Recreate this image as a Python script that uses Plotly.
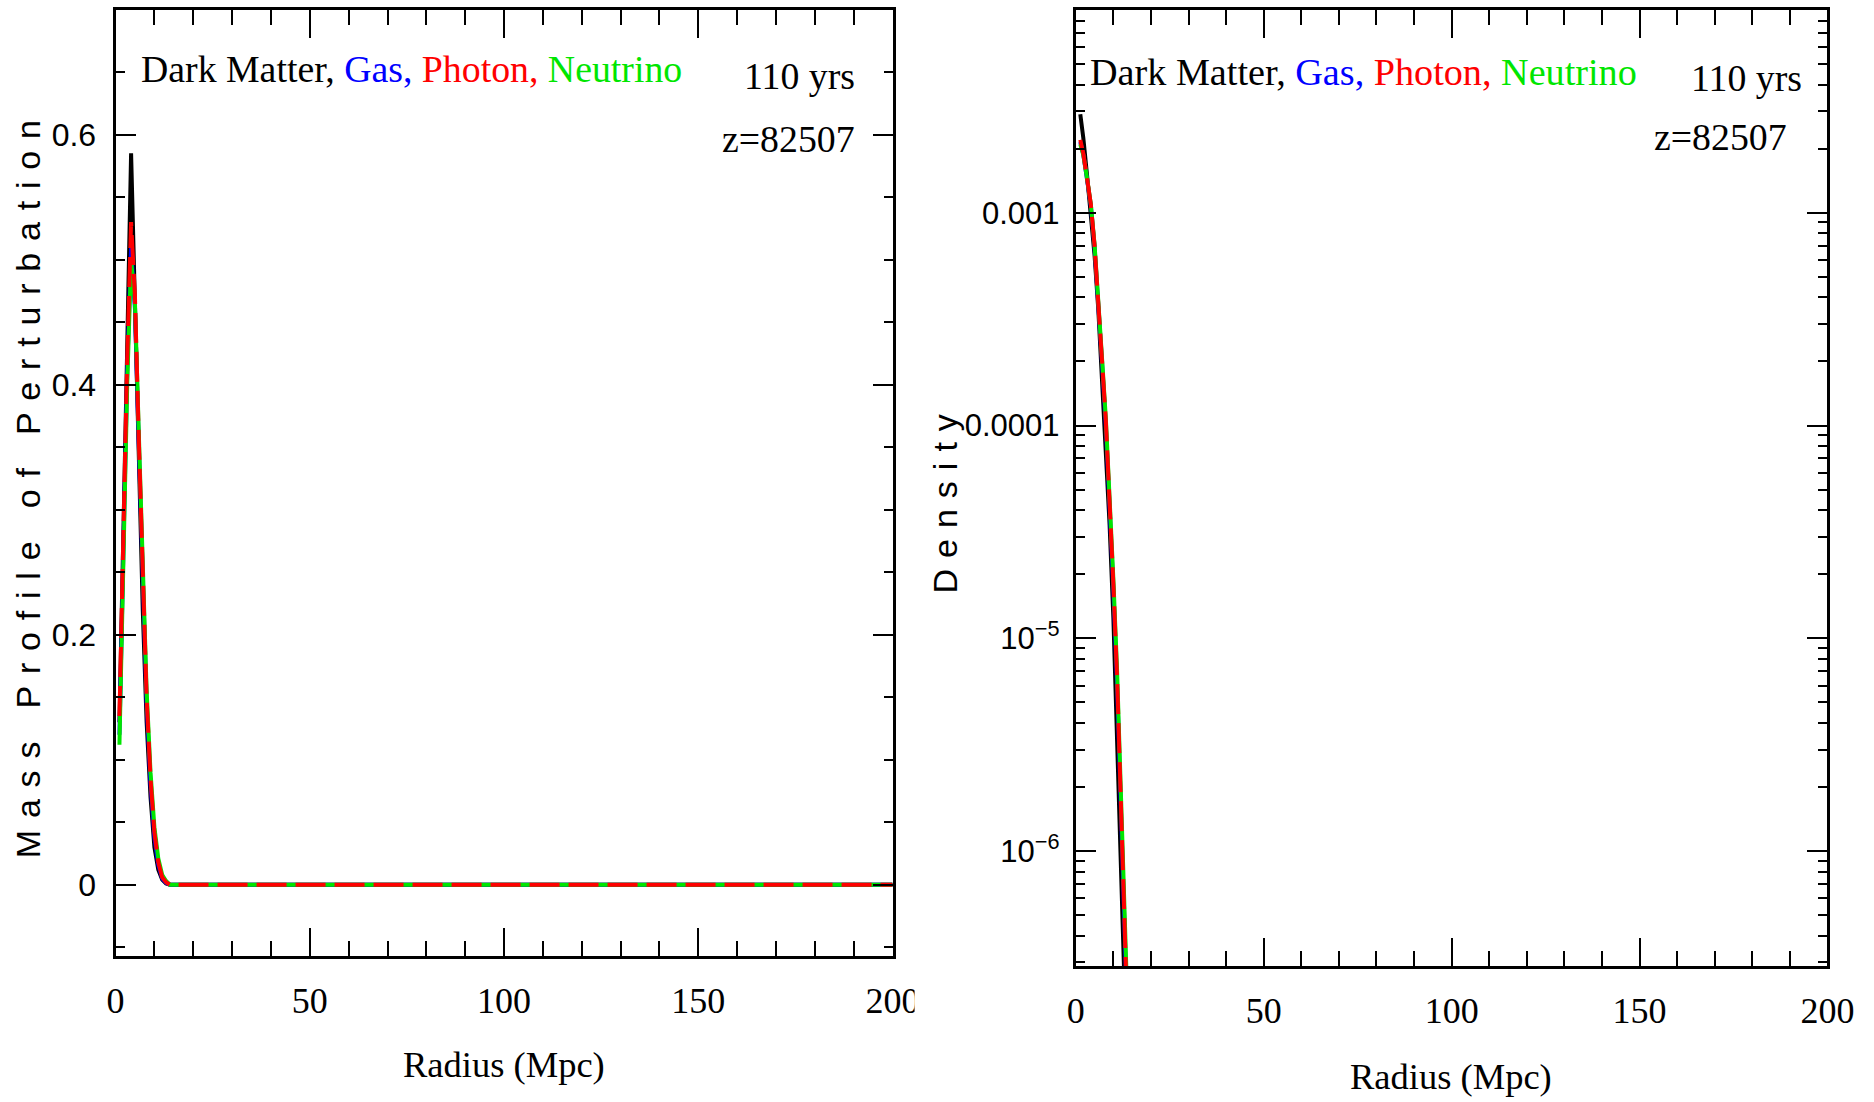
import plotly.graph_objects as go

# ---------------- data ----------------
r_mass = [1.0, 2.0, 3.0, 4.0, 5.0, 6.0, 7.0, 8.0, 9.0, 10.0, 11.0, 12.0, 13.0, 14.0, 200.0]
dm_mass = [0.13, 0.30, 0.43, 0.585, 0.46, 0.34, 0.22, 0.13, 0.07, 0.03, 0.012, 0.004, 0.001, 0.0, 0.0]
gas_mass = [0.12, 0.28, 0.41, 0.51, 0.46, 0.35, 0.235, 0.145, 0.08, 0.038, 0.016, 0.005, 0.0015, 0.0, 0.0]
photon_mass = [0.135, 0.29, 0.42, 0.53, 0.47, 0.355, 0.24, 0.15, 0.085, 0.042, 0.018, 0.006, 0.002, 0.0, 0.0]
neutrino_mass = [0.112, 0.27, 0.40, 0.50, 0.465, 0.36, 0.245, 0.155, 0.09, 0.046, 0.021, 0.008, 0.003, 0.0, 0.0]

r_dens = [1.2, 2.0, 3.0, 4.0, 5.0, 6.0, 7.0, 8.0, 9.0, 10.0, 11.0, 12.0, 13.0, 14.0, 15.0, 16.0]
dm_dens = [2.9e-3, 2.25e-3, 1.5e-3, 1.0e-3, 6.3e-4, 3.5e-4, 1.7e-4, 8.2e-5, 3.4e-5, 1.25e-5,
           4.2e-6, 1.3e-6, 3.6e-7, 9e-8, 2e-8, 4e-9]
gas_dens = [2.15e-3, 1.88e-3, 1.43e-3, 1.08e-3, 6.9e-4, 3.9e-4, 1.95e-4, 1.0e-4, 4.3e-5, 1.7e-5,
            6.0e-6, 2.0e-6, 5.9e-7, 1.9e-7, 4e-8, 8e-9]
photon_dens = [2.2e-3, 1.9e-3, 1.45e-3, 1.1e-3, 7.0e-4, 4.0e-4, 2.0e-4, 1.05e-4, 4.5e-5, 1.8e-5,
               6.5e-6, 2.2e-6, 6.5e-7, 2.2e-7, 4e-8, 8e-9]
neutrino_dens = [2.1e-3, 1.87e-3, 1.45e-3, 1.1e-3, 7.1e-4, 4.1e-4, 2.05e-4, 1.08e-4, 4.7e-5, 1.9e-5,
                 7.0e-6, 2.4e-6, 7.2e-7, 2.3e-7, 5e-8, 1e-8]

x_ticks = [0, 50, 100, 150, 200]
dens_ticks = [1e-6, 1e-5, 1e-4, 1e-3]
dens_ticktext = ["10<sup>\u22126</sup>", "10<sup>\u22125</sup>", "0.0001", "0.001"]
dens_minor = [k * 10.0 ** d for d in range(-7, -1) for k in range(2, 10)]

time_label = "110 yrs"
z_label = "z=82507"

W, H = 1874, 1102
# horizontal mapping of the rendered page (observed): x_px = X0 + frac * WEFF
X0, WEFF = 6.75, 1841.4


def px(x):
    return (x - X0) / WEFF


def py(y):
    return 1 - y / H


BLACK = "#000000"
BLUE = "#0000ff"
RED = "#ff0000"
GREEN = "#00e600"

fig = go.Figure()


def add_set(xv, series, xa, ya):
    styles = [
        (series[0], BLACK, None, "Dark Matter"),
        (series[1], BLUE, None, "Gas"),
        (series[3], GREEN, None, "Neutrino"),
        (series[2], RED, "30px,9px", "Photon"),
    ]
    for yv, col, dash, name in styles:
        fig.add_trace(go.Scatter(x=xv, y=yv, mode="lines", name=name, xaxis=xa, yaxis=ya,
                                 line=dict(color=col, width=4, dash=dash), showlegend=False))


add_set(r_mass, [dm_mass, gas_mass, photon_mass, neutrino_mass], "x", "y")
add_set(r_dens, [dm_dens, gas_dens, photon_dens, neutrino_dens], "x2", "y2")

serif = "Liberation Serif"
sans = "Liberation Sans"


def xax(domain, anchor):
    return dict(domain=domain, anchor=anchor, range=[0, 200], tickmode="array", tickvals=x_ticks,
                ticks="inside", ticklen=28, tickwidth=2, tickcolor=BLACK,
                showline=True, linewidth=3, linecolor=BLACK, mirror="allticks",
                showgrid=False, zeroline=False,
                minor=dict(ticks="inside", dtick=10, tick0=0, ticklen=15, tickwidth=2,
                           tickcolor=BLACK, showgrid=False),
                tickfont=dict(family=serif, size=36, color=BLACK), ticklabelstandoff=11)


fig.update_layout(
    width=W, height=H, margin=dict(l=0, r=0, t=0, b=0),
    paper_bgcolor="white", plot_bgcolor="white", showlegend=False,
    xaxis=xax([px(113.5), px(892)], "y"),
    xaxis2=xax([px(1075.5), px(1828.6)], "y2"),
    yaxis=dict(domain=[py(956), py(9.5)], anchor="x", range=[-0.057, 0.70],
               tick0=0, dtick=0.2, ticks="inside", ticklen=20, tickwidth=2, tickcolor=BLACK,
               showline=True, linewidth=3, linecolor=BLACK, mirror="allticks",
               showgrid=False, zeroline=False,
               minor=dict(ticks="inside", dtick=0.05, tick0=0, ticklen=9, tickwidth=2,
                          tickcolor=BLACK, showgrid=False),
               tickfont=dict(family=sans, size=32, color=BLACK), ticklabelstandoff=10),
    yaxis2=dict(domain=[py(966), py(9.5)], anchor="x2", type="log",
                range=[-6.54, -2.045], tickmode="array", tickvals=dens_ticks, ticktext=dens_ticktext,
                ticks="inside", ticklen=20, tickwidth=2, tickcolor=BLACK,
                showline=True, linewidth=3, linecolor=BLACK, mirror="allticks",
                showgrid=False, zeroline=False,
                minor=dict(ticks="inside", tickmode="array", tickvals=dens_minor, ticklen=9,
                           tickwidth=2, tickcolor=BLACK, showgrid=False),
                tickfont=dict(family=sans, size=31, color=BLACK), ticklabelstandoff=7),
)

legend_text = ('Dark Matter, <span style="color:%s">Gas,</span> <span style="color:%s">Photon,</span> '
               '<span style="color:%s">Neutrino</span>') % (BLUE, RED, GREEN)


def ann(text, x, y, xanchor="center", size=37, family=serif, angle=0):
    fig.add_annotation(text=text, x=px(x), y=py(y), xref="paper", yref="paper",
                       xanchor=xanchor, yanchor="middle", showarrow=False, textangle=angle,
                       font=dict(family=family, size=size, color=BLACK))


ann(legend_text, 137, 69, "left", size=37.8)
ann(time_label, 856, 76, "right", size=37.8)
ann(z_label, 856, 139, "right", size=37.8)
ann(legend_text, 1088, 72, "left", size=38.2)
ann(time_label, 1805, 78, "right", size=37.8)
ann(z_label, 1790, 137, "right", size=37.8)

ann("Radius (Mpc)", 503, 1064, size=36.5)
ann("Radius (Mpc)", 1451, 1076, size=36.5)
ann('<span style="letter-spacing:11.8px">Mass Profile of Perturbation</span>', 26, 483,
    size=34, family=sans, angle=-90)
ann('<span style="letter-spacing:11px">Density</span>', 944, 499, size=34, family=sans, angle=-90)

# the right-hand part of the left panel's last tick label is cut off in the original
fig.add_shape(type="rect", xref="paper", yref="paper", x0=px(914), x1=px(1000),
              y0=py(1045), y1=py(965), fillcolor="white", line=dict(width=0),
              layer="above")

fig.write_html("out.html")
